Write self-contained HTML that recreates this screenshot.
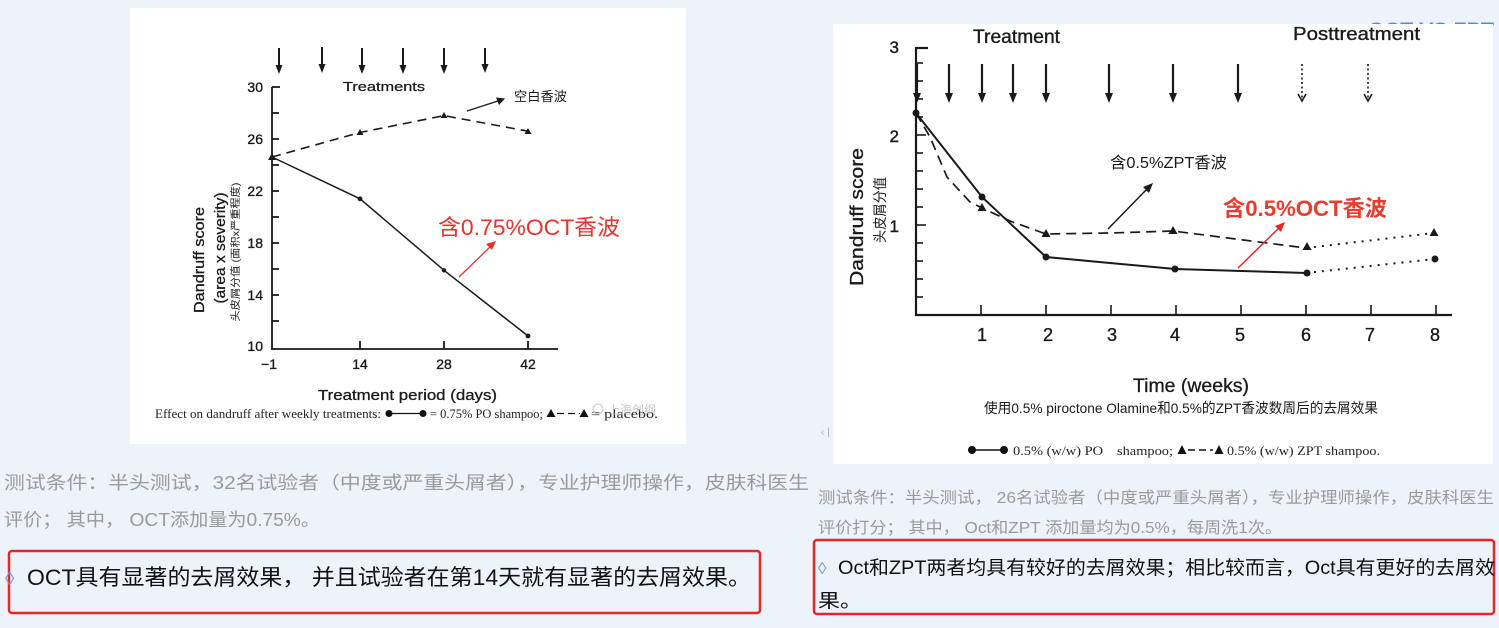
<!DOCTYPE html>
<html><head><meta charset="utf-8"><style>
html,body{margin:0;padding:0;background:#edf3fa;}
svg{display:block;}
</style></head><body>
<svg width="1499" height="628" viewBox="0 0 1499 628" xmlns="http://www.w3.org/2000/svg" font-family="'Liberation Sans','Noto Sans CJK SC',sans-serif">
<rect x="0" y="0" width="1499" height="628" fill="#edf3fa"/>

<!-- top right partial title -->
<text x="1368" y="38" font-size="22" font-weight="bold" fill="#4b8fd8" textLength="126" lengthAdjust="spacingAndGlyphs">OCT VS ZPT</text>

<!-- LEFT PANEL -->
<rect x="130" y="8" width="556" height="436" fill="#ffffff"/>
<g stroke="#1a1a1a" fill="none" stroke-width="1.8">
  <line x1="272" y1="87" x2="272" y2="349"/>
  <line x1="271" y1="349" x2="558" y2="349"/>
  <line x1="272" y1="87" x2="280" y2="87"/>
  <line x1="272" y1="113" x2="279" y2="113"/>
  <line x1="272" y1="139" x2="279" y2="139"/>
  <line x1="272" y1="165" x2="279" y2="165"/>
  <line x1="272" y1="191" x2="279" y2="191"/>
  <line x1="272" y1="217" x2="279" y2="217"/>
  <line x1="272" y1="243" x2="279" y2="243"/>
  <line x1="272" y1="269" x2="279" y2="269"/>
  <line x1="272" y1="295" x2="279" y2="295"/>
  <line x1="272" y1="321" x2="279" y2="321"/>
  <line x1="360" y1="341" x2="360" y2="349"/>
  <line x1="444" y1="341" x2="444" y2="349"/>
  <line x1="528" y1="341" x2="528" y2="349"/>
</g>
<g font-size="14" fill="#1a1a1a" stroke="#1a1a1a" stroke-width="0.35" text-anchor="end">
  <text x="263" y="92">30</text>
  <text x="263" y="144">26</text>
  <text x="263" y="196">22</text>
  <text x="263" y="248">18</text>
  <text x="263" y="300">14</text>
  <text x="263" y="351">10</text>
</g>
<g font-size="14" fill="#1a1a1a" stroke="#1a1a1a" stroke-width="0.35" text-anchor="middle">
  <text x="269" y="369">−1</text>
  <text x="360" y="369">14</text>
  <text x="444" y="369">28</text>
  <text x="528" y="369">42</text>
</g>
<text x="318" y="400" font-size="15" fill="#1a1a1a" stroke="#1a1a1a" stroke-width="0.3" textLength="179" lengthAdjust="spacingAndGlyphs">Treatment  period (days)</text>
<text x="343" y="91" font-size="13" fill="#1a1a1a" stroke="#1a1a1a" stroke-width="0.25" textLength="82" lengthAdjust="spacingAndGlyphs">Treatments</text>

<!-- left arrows -->
<g stroke="#1a1a1a" stroke-width="2" fill="#1a1a1a">
  <line x1="279" y1="48" x2="279" y2="66"/><polygon points="275.5,65 282.5,65 279,74" stroke="none"/>
  <line x1="322" y1="47" x2="322" y2="65"/><polygon points="318.5,64 325.5,64 322,73" stroke="none"/>
  <line x1="362" y1="48" x2="362" y2="66"/><polygon points="358.5,65 365.5,65 362,74" stroke="none"/>
  <line x1="403" y1="48" x2="403" y2="66"/><polygon points="399.5,65 406.5,65 403,74" stroke="none"/>
  <line x1="444" y1="48" x2="444" y2="66"/><polygon points="440.5,65 447.5,65 444,74" stroke="none"/>
  <line x1="485" y1="48" x2="485" y2="65"/><polygon points="481.5,64 488.5,64 485,73" stroke="none"/>
</g>

<!-- left data -->
<polyline points="272,157 360,132.5 444,115.6 528,131.2" fill="none" stroke="#1a1a1a" stroke-width="1.6" stroke-dasharray="9,6"/>
<polyline points="272,157 360,198.8 444,270.3 528,336" fill="none" stroke="#1a1a1a" stroke-width="1.5"/>
<g fill="#1a1a1a">
  <circle cx="360" cy="198.8" r="2.4"/><circle cx="444" cy="270.3" r="2.2"/><circle cx="528" cy="336" r="2.4"/>
  <polygon points="272,153 268,160 276,160"/>
  <polygon points="360,129 356.5,135 363.5,135"/>
  <polygon points="444,112 440.5,118 447.5,118"/>
  <polygon points="528,128 524.5,134 531.5,134"/>
</g>

<!-- left y labels -->
<text transform="translate(204,260) rotate(-90)" font-size="15" fill="#1a1a1a" stroke="#1a1a1a" stroke-width="0.3" text-anchor="middle" textLength="106" lengthAdjust="spacingAndGlyphs">Dandruff score</text>
<text transform="translate(225,248) rotate(-90)" font-size="15" fill="#1a1a1a" stroke="#1a1a1a" stroke-width="0.3" text-anchor="middle" textLength="111" lengthAdjust="spacingAndGlyphs">(area x severity)</text>
<text transform="translate(239,252) rotate(-90)" font-size="10" fill="#1a1a1a" text-anchor="middle" textLength="139" lengthAdjust="spacingAndGlyphs">头皮屑分值 (面积x严重程度)</text>

<!-- annotations left -->
<text x="514" y="101" font-size="13" fill="#1a1a1a" textLength="53" lengthAdjust="spacingAndGlyphs">空白香波</text>
<line x1="467" y1="111" x2="498" y2="101" stroke="#1a1a1a" stroke-width="1.4"/>
<polygon points="505,98.5 496,97.5 499,105" fill="#1a1a1a"/>
<text x="438" y="235" font-size="22" fill="#e8322d" textLength="182" lengthAdjust="spacingAndGlyphs">含0.75%OCT香波</text>
<line x1="459" y1="277" x2="491" y2="246" stroke="#e8322d" stroke-width="1.3"/>
<polygon points="496,241 486,244 492,250" fill="#e8322d"/>

<!-- left caption -->
<g font-family="'Liberation Serif',serif" font-size="12.5" fill="#222">
  <text x="155" y="418" textLength="226" lengthAdjust="spacingAndGlyphs">Effect on dandruff after weekly treatments:</text>
  <line x1="389" y1="413.5" x2="423" y2="413.5" stroke="#111" stroke-width="1.3"/>
  <circle cx="389" cy="413.5" r="3.5" fill="#111"/><circle cx="423" cy="413.5" r="3.5" fill="#111"/>
  <text x="430" y="418" textLength="113" lengthAdjust="spacingAndGlyphs">= 0.75% PO shampoo;</text>
  <polygon points="551,409 546.5,417 555.5,417" fill="#111"/>
  <line x1="557" y1="413.5" x2="580" y2="413.5" stroke="#111" stroke-width="1.3" stroke-dasharray="7,4"/>
  <polygon points="584,409 579.5,417 588.5,417" fill="#111"/>
  <text x="591" y="418" textLength="67" lengthAdjust="spacingAndGlyphs">= placebo.</text>
</g>
<text x="608" y="414" font-size="12" fill="#b8b8b8" opacity="0.8">上海创纲</text>
<circle cx="598" cy="409" r="5" fill="none" stroke="#c8c8c8" stroke-width="1"/>

<!-- RIGHT PANEL -->
<rect x="833" y="24" width="660" height="440" fill="#ffffff"/>
<g stroke="#1a1a1a" fill="none" stroke-width="2.2">
  <line x1="916" y1="47" x2="916" y2="316"/>
  <line x1="915" y1="315" x2="1452" y2="315"/>
  <line x1="916" y1="48" x2="928" y2="48"/>
</g>
<g stroke="#1a1a1a" stroke-width="1.6">
  <line x1="916" y1="63" x2="923" y2="63"/>
  <line x1="916" y1="81" x2="923" y2="81"/>
  <line x1="916" y1="99" x2="923" y2="99"/>
  <line x1="916" y1="117" x2="923" y2="117"/>
  <line x1="916" y1="135" x2="926" y2="135"/>
  <line x1="916" y1="153" x2="923" y2="153"/>
  <line x1="916" y1="171" x2="923" y2="171"/>
  <line x1="916" y1="189" x2="923" y2="189"/>
  <line x1="916" y1="207" x2="923" y2="207"/>
  <line x1="916" y1="225" x2="926" y2="225"/>
  <line x1="916" y1="243" x2="923" y2="243"/>
  <line x1="916" y1="261" x2="923" y2="261"/>
  <line x1="916" y1="279" x2="923" y2="279"/>
  <line x1="916" y1="297" x2="923" y2="297"/>
  <line x1="981" y1="305" x2="981" y2="315"/>
  <line x1="1046" y1="305" x2="1046" y2="315"/>
  <line x1="1111" y1="305" x2="1111" y2="315"/>
  <line x1="1176" y1="305" x2="1176" y2="315"/>
  <line x1="1241" y1="305" x2="1241" y2="315"/>
  <line x1="1306" y1="305" x2="1306" y2="315"/>
  <line x1="1371" y1="305" x2="1371" y2="315"/>
  <line x1="1436" y1="305" x2="1436" y2="315"/>
</g>
<g font-size="17" fill="#1a1a1a" stroke="#1a1a1a" stroke-width="0.4" text-anchor="end">
  <text x="899" y="53">3</text>
  <text x="899" y="142">2</text>
  <text x="899" y="232">1</text>
</g>
<g font-size="18" fill="#1a1a1a" stroke="#1a1a1a" stroke-width="0.35" text-anchor="middle">
  <text x="982" y="341">1</text>
  <text x="1048" y="341">2</text>
  <text x="1112" y="341">3</text>
  <text x="1175" y="341">4</text>
  <text x="1240" y="341">5</text>
  <text x="1306" y="341">6</text>
  <text x="1370" y="341">7</text>
  <text x="1435" y="341">8</text>
</g>
<text x="973" y="43" font-size="19" fill="#1a1a1a" stroke="#1a1a1a" stroke-width="0.35" textLength="87" lengthAdjust="spacingAndGlyphs">Treatment</text>
<text x="1293" y="40" font-size="18" fill="#1a1a1a" stroke="#1a1a1a" stroke-width="0.35" textLength="127" lengthAdjust="spacingAndGlyphs">Posttreatment</text>

<!-- right arrows -->
<g stroke="#1a1a1a" stroke-width="2.2" fill="#1a1a1a">
  <line x1="917" y1="64" x2="917" y2="94"/><polygon points="913,93 921,93 917,103" stroke="none"/>
  <line x1="949" y1="64" x2="949" y2="94"/><polygon points="945,93 953,93 949,103" stroke="none"/>
  <line x1="982" y1="64" x2="982" y2="94"/><polygon points="978,93 986,93 982,103" stroke="none"/>
  <line x1="1013" y1="64" x2="1013" y2="94"/><polygon points="1009,93 1017,93 1013,103" stroke="none"/>
  <line x1="1046" y1="64" x2="1046" y2="94"/><polygon points="1042,93 1050,93 1046,103" stroke="none"/>
  <line x1="1109" y1="64" x2="1109" y2="94"/><polygon points="1105,93 1113,93 1109,103" stroke="none"/>
  <line x1="1173" y1="64" x2="1173" y2="94"/><polygon points="1169,93 1177,93 1173,103" stroke="none"/>
  <line x1="1238" y1="64" x2="1238" y2="94"/><polygon points="1234,93 1242,93 1238,103" stroke="none"/>
</g>
<g stroke="#1a1a1a" stroke-width="1.6" fill="none">
  <line x1="1302" y1="64" x2="1302" y2="100" stroke-dasharray="2,2.5"/>
  <polyline points="1298,94 1302,101 1306,94"/>
  <line x1="1368" y1="64" x2="1368" y2="100" stroke-dasharray="2,2.5"/>
  <polyline points="1364,94 1368,101 1372,94"/>
</g>

<!-- right data -->
<polyline points="916,113 930,137 947,177 970,202 982,208 1010,221 1046,234 1110,233 1173,231 1306,248" fill="none" stroke="#1a1a1a" stroke-width="1.7" stroke-dasharray="10,6"/>
<polyline points="1306,248 1434,233" fill="none" stroke="#1a1a1a" stroke-width="2" stroke-dasharray="2,6"/>
<polyline points="916,113 982,197 1046,257 1110,263 1175,269 1306,273" fill="none" stroke="#1a1a1a" stroke-width="2"/>
<polyline points="1306,273 1435,259" fill="none" stroke="#1a1a1a" stroke-width="2" stroke-dasharray="2,6"/>
<g fill="#1a1a1a">
  <circle cx="916" cy="113" r="3.5"/><circle cx="982" cy="197" r="3.5"/><circle cx="1046" cy="257" r="3.5"/>
  <circle cx="1175" cy="269" r="3.5"/><circle cx="1307" cy="273" r="3.5"/><circle cx="1435" cy="259" r="3.5"/>
  <polygon points="982,203 977.5,211 986.5,211"/>
  <polygon points="1046,229 1041.5,237 1050.5,237"/>
  <polygon points="1173,226 1168.5,234 1177.5,234"/>
  <polygon points="1307,242 1302.5,250 1311.5,250"/>
  <polygon points="1434,228 1429.5,236 1438.5,236"/>
</g>

<!-- right y labels -->
<text transform="translate(863,217) rotate(-90)" font-size="18" fill="#1a1a1a" stroke="#1a1a1a" stroke-width="0.35" text-anchor="middle" textLength="138" lengthAdjust="spacingAndGlyphs">Dandruff score</text>
<text transform="translate(885,210) rotate(-90)" font-size="14" fill="#1a1a1a" text-anchor="middle" textLength="66" lengthAdjust="spacingAndGlyphs">头皮屑分值</text>

<!-- right annotations -->
<text x="1110" y="168" font-size="16" fill="#1a1a1a" textLength="117" lengthAdjust="spacingAndGlyphs">含0.5%ZPT香波</text>
<line x1="1108" y1="229" x2="1148" y2="188" stroke="#1a1a1a" stroke-width="1.5"/>
<polygon points="1153,183 1143,187 1149,193" fill="#1a1a1a"/>
<text x="1223" y="216" font-size="22" font-weight="bold" fill="#ee3a2c" textLength="164" lengthAdjust="spacingAndGlyphs">含0.5%OCT香波</text>
<line x1="1238" y1="268" x2="1280" y2="227" stroke="#e8262a" stroke-width="1.5"/>
<polygon points="1285,222 1275,226 1281,232" fill="#e8262a"/>

<text x="1133" y="392" font-size="19" fill="#1a1a1a" stroke="#1a1a1a" stroke-width="0.3" textLength="116" lengthAdjust="spacingAndGlyphs">Time (weeks)</text>
<text x="984" y="413" font-size="14" fill="#1a1a1a" textLength="394" lengthAdjust="spacingAndGlyphs">使用0.5% piroctone Olamine和0.5%的ZPT香波数周后的去屑效果</text>

<!-- right legend -->
<g font-family="'Liberation Serif',serif" font-size="13" fill="#222">
  <line x1="972" y1="450" x2="1004" y2="450" stroke="#111" stroke-width="1.5"/>
  <circle cx="972" cy="450" r="4" fill="#111"/><circle cx="1004" cy="450" r="4" fill="#111"/>
  <text x="1013" y="455" textLength="90" lengthAdjust="spacingAndGlyphs">0.5% (w/w) PO</text>
  <text x="1117" y="455" textLength="56" lengthAdjust="spacingAndGlyphs">shampoo;</text>
  <polygon points="1182,445 1177.5,454 1186.5,454" fill="#111"/>
  <line x1="1188" y1="450" x2="1213" y2="450" stroke="#111" stroke-width="1.4" stroke-dasharray="7,4"/>
  <polygon points="1219,445 1214.5,454 1223.5,454" fill="#111"/>
  <text x="1227" y="455" textLength="153" lengthAdjust="spacingAndGlyphs">0.5% (w/w) ZPT shampoo.</text>
</g>
<text x="821" y="435" font-size="10" fill="#aaa">‹ |</text>

<!-- BOTTOM TEXT LEFT -->
<text x="4" y="489" font-size="18" fill="#9a9a9a" textLength="805" lengthAdjust="spacingAndGlyphs">测试条件：半头测试，32名试验者（中度或严重头屑者），专业护理师操作，皮肤科医生</text>
<text x="4" y="526" font-size="18" fill="#9a9a9a" textLength="316" lengthAdjust="spacingAndGlyphs">评价； 其中， OCT添加量为0.75%。</text>
<rect x="9" y="551" width="751" height="62" rx="3" fill="none" stroke="#e8262a" stroke-width="2.5"/>
<text x="5" y="585" font-size="19" fill="#6a9ed8">◊</text>
<text x="27" y="585" font-size="22" fill="#111" textLength="724" lengthAdjust="spacingAndGlyphs">OCT具有显著的去屑效果， 并且试验者在第14天就有显著的去屑效果。</text>

<!-- BOTTOM TEXT RIGHT -->
<text x="818" y="503" font-size="16" fill="#9a9a9a" textLength="676" lengthAdjust="spacingAndGlyphs">测试条件：半头测试， 26名试验者（中度或严重头屑者），专业护理师操作，皮肤科医生</text>
<text x="818" y="533" font-size="16" fill="#9a9a9a" textLength="464" lengthAdjust="spacingAndGlyphs">评价打分； 其中， Oct和ZPT 添加量均为0.5%，每周洗1次。</text>
<rect x="814" y="540" width="680" height="74" rx="3" fill="none" stroke="#e8262a" stroke-width="2.5"/>
<text x="818" y="574" font-size="17" fill="#6a9ed8">◊</text>
<text x="838" y="574" font-size="19" fill="#111" textLength="657" lengthAdjust="spacingAndGlyphs">Oct和ZPT两者均具有较好的去屑效果；相比较而言，Oct具有更好的去屑效</text>
<text x="818" y="607" font-size="19" fill="#111" textLength="44" lengthAdjust="spacingAndGlyphs">果。</text>
</svg>
</body></html>
